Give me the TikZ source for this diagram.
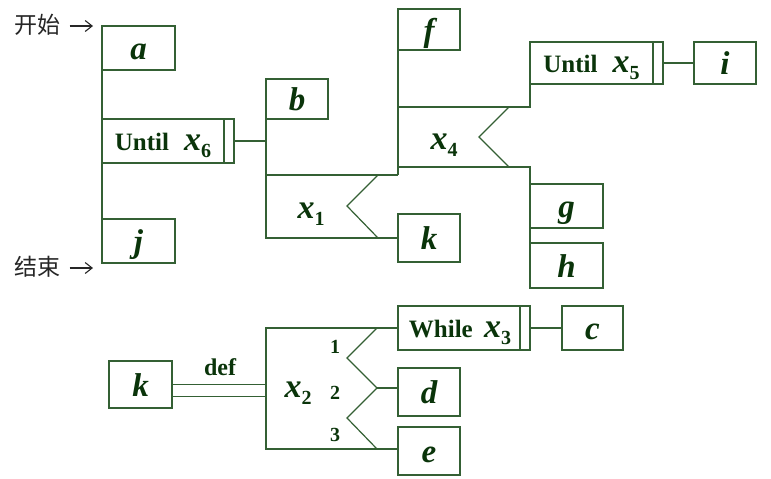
\documentclass[tikz,border=0pt]{standalone}
\usepackage{fontspec}
\setmainfont{Liberation Serif}
\newfontfamily\cjk{Noto Sans CJK SC}
\usetikzlibrary{arrows.meta}

\definecolor{padline}{RGB}{52,96,52}
\definecolor{padtext}{RGB}{10,52,10}
\newcommand{\pvar}[2]{{\fontsize{34}{34}\selectfont\textit{#1}}\raisebox{-7pt}[0pt][0pt]{\fontsize{20}{20}\selectfont #2}}

\begin{document}
\begin{tikzpicture}[
        x=1pt, y=-1pt,
        box/.style={rectangle, draw=padline, line width=1.2pt, anchor=north west, inner sep=0pt, outer sep=0pt, text=padtext, text height=25pt, text depth=2pt, font=\fontsize{33}{33}\selectfont\bfseries\itshape},
        loopbox/.style={box, text height=20pt, text depth=2pt, font=\fontsize{25}{28}\selectfont\bfseries, path picture={\draw[padline, line width=1.2pt] ([xshift=-10pt]path picture bounding box.north east) -- ([xshift=-10pt]path picture bounding box.south east);}},
        lbl/.style={text=padtext, font=\fontsize{26}{30}\selectfont\bfseries},
        num/.style={text=padtext, font=\fontsize{20}{22}\selectfont\bfseries},
        edge/.style={draw=padline, line width=1.2pt},
        cjkmark/.style={font=\cjk\fontsize{23}{26}\selectfont, text=black!85},
        inarrow/.style={-{Straight Barb[length=7pt, width=11pt]}, line width=1.1pt, black!85}
    ]
    \useasboundingbox (0,0) rectangle (771,479);

    % Main sequence
    \node[box, minimum width=73pt, minimum height=44pt] (a) at (102,26) {a};
    \node[loopbox, minimum width=132pt, minimum height=44pt] (u6) at (102,119) {\hspace*{-10pt}Until\hspace{0.6em}\pvar{x}{6}\hspace{25pt}};
    \node[box, minimum width=73pt, minimum height=44pt] (j) at (102,219) {j};
    \draw[edge] (a.north west) -- (j.south west);

    \node[cjkmark] (start) at (37,25) {开始};
    \node[cjkmark] (stop) at (37,267) {结束};
    \coordinate (in) at (93,26);
    \coordinate (out) at (93,268);
    \draw[inarrow] ([xshift=6pt]start.east |- in) -- (in);
    \draw[inarrow] ([xshift=6pt]stop.east |- out) -- (out);

    % Body of Until x6
    \node[box, minimum width=62pt, minimum height=40pt] (b) at (266,79) {b};
    \node[box, minimum width=62pt, minimum height=48pt] (k) at (398,214) {k};
    \draw[edge] (u6.east) -- (u6.east -| b.west);

    % Branch x1
    \coordinate (s1) at (266,175);
    \coordinate (s3) at (398,175);
    \draw[edge] (b.north west) -- (s1 |- k.west) -- (k.west);
    \draw[edge] (s1) -- (s3);
    \draw[edge] (378,175) -- (347,206) -- (378,238);
    \node[lbl] (lx1) at (311,211) {\pvar{x}{1}};

    % Then part of x1
    \node[box, minimum width=62pt, minimum height=41pt] (f) at (398,9) {f};
    \draw[edge] (s3) -- (f.north west);

    % Branch x4
    \node[loopbox, minimum width=133pt, minimum height=42pt] (u5) at (530,42) {\hspace*{-10pt}Until\hspace{0.6em}\pvar{x}{5}\hspace{24pt}};
    \node[box, minimum width=62pt, minimum height=42pt] (i) at (694,42) {i};
    \node[box, minimum width=73pt, minimum height=44pt] (g) at (530,184) {g};
    \node[box, minimum width=73pt, minimum height=45pt] (h) at (530,243) {h};
    \coordinate (t4) at (398,107);
    \coordinate (b4) at (398,167);
    \draw[edge] (t4) -- (t4 -| u5.south west) -- (u5.south west);
    \draw[edge] (b4) -- (b4 -| h.south west) -- (h.south west);
    \draw[edge] (509,107) -- (479,137) -- (509,167);
    \draw[edge] (u5.east) -- (i.west);
    \node[lbl] (lx4) at (444,142) {\pvar{x}{4}};

    % Definition of k
    \node[box, minimum width=63pt, minimum height=47pt] (k2) at (109,361) {k};
    \node[loopbox, minimum width=132pt, minimum height=44pt] (w3) at (398,306) {\hspace*{-8pt}While\hspace{0.45em}\pvar{x}{3}\hspace{22pt}};
    \node[box, minimum width=61pt, minimum height=44pt] (c) at (562,306) {c};
    \node[box, minimum width=62pt, minimum height=48pt] (d) at (398,368) {d};
    \node[box, minimum width=62pt, minimum height=48pt] (e) at (398,427) {e};
    \coordinate (p1) at (266,328);
    \coordinate (p5) at (266,449);
    \coordinate (z3) at (377,388);
    \coordinate (kd) at ([yshift=-12pt]k2.east);
    \draw[edge] (w3.west) -| (p5) -- (p5 -| e.west);
    \draw[edge] (377,328) -- (347,358) -- (z3) -- (347,418) -- (377,449);
    \draw[edge] (z3) -- (z3 -| d.west);
    \draw[edge] (w3.east) -- (c.west);
    \draw[edge] (k2.east) -- (k2.east -| p1);
    \draw[edge] (kd) -- (kd -| p1);
    \node[lbl, font=\fontsize{24}{26}\selectfont\bfseries] (def) at (220,367) {def};
    \node[lbl] (lx2) at (298,390) {\pvar{x}{2}};
    \node[num] (n1) at (335,347) {1};
    \node[num] (n2) at (335,393) {2};
    \node[num] (n3) at (335,435) {3};

\end{tikzpicture}
\end{document}
